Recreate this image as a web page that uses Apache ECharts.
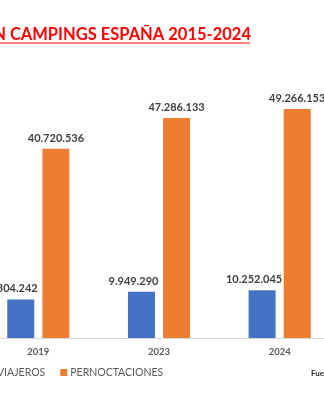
<!DOCTYPE html>
<html>
<head>
<meta charset="utf-8">
<script src="https://cdn.jsdelivr.net/npm/echarts@6/dist/echarts.min.js"></script>
<style>
html,body{margin:0;padding:0;background:#fff;overflow:hidden;width:324px;height:400px;position:relative;}
#chart{position:absolute;left:-22px;top:0;width:362px;height:400px;}
</style>
</head>
<body>
<div id="chart"></div>
<script>
var categories = ['2019', '2023', '2024'];
var viajeros = [8304242, 9949290, 10252045];
var pernoctaciones = [40720536, 47286133, 49266153];
var seriesNames = ['VIAJEROS', 'PERNOCTACIONES'];
var titleText = 'EVOLUCIÓN VIAJEROS Y PERNOCTACIONES EN CAMPINGS ESPAÑA 2015-2024';
var sourceText = 'Fuente: INE';

function fmt(v) {
  return String(v).replace(/\B(?=(\d{3})+(?!\d))/g, '.');
}

var FONT = 'Lato';
var chart = echarts.init(document.getElementById('chart'), null, {renderer: 'canvas'});
chart.setOption({
  animation: false,
  backgroundColor: '#ffffff',
  title: {
    text: titleText,
    right: 89,
    top: 25,
    padding: 0,
    textStyle: {fontFamily: FONT, fontSize: 16.5, fontWeight: 'bold', color: '#FF0000', lineHeight: 20}
  },
  graphic: [
    {type: 'line', shape: {x1: -400, y1: 43, x2: 272, y2: 43}, style: {stroke: '#FF0000', lineWidth: 1}},
    {type: 'text', left: 333, top: 369, style: {text: sourceText, font: 'bold 8px ' + FONT, fill: '#262626'}}
  ],
  legend: {
    data: seriesNames,
    left: 9,
    top: 367,
    padding: 0,
    itemWidth: 7,
    itemHeight: 7,
    itemGap: 15,
    icon: 'rect',
    textStyle: {fontFamily: FONT, fontSize: 10.5, color: '#595959', padding: [0, 0, 0, -2]}
  },
  grid: {left: 0, right: 0, top: 59, bottom: 62},
  xAxis: {
    type: 'category',
    data: categories,
    axisLine: {lineStyle: {color: '#D9D9D9', width: 1}},
    axisTick: {show: false},
    axisLabel: {fontFamily: FONT, fontSize: 9.5, color: '#595959', fontWeight: 'bold', margin: 9}
  },
  yAxis: {
    type: 'value',
    min: 0,
    max: 60000000,
    show: false,
    splitLine: {show: false}
  },
  series: [
    {
      name: seriesNames[0],
      type: 'bar',
      data: viajeros,
      barWidth: 27,
      barGap: '30%',
      itemStyle: {color: '#4472C4'},
      label: {show: true, position: 'top', distance: 5, offset: [-8, 0], formatter: function(p){return fmt(p.value);},
        fontFamily: FONT, fontSize: 11, fontWeight: 'bold', color: '#404040'}
    },
    {
      name: seriesNames[1],
      type: 'bar',
      data: pernoctaciones,
      barWidth: 27,
      itemStyle: {color: '#ED7D31'},
      label: {show: true, position: 'top', distance: 5, formatter: function(p){return fmt(p.value);},
        fontFamily: FONT, fontSize: 11, fontWeight: 'bold', color: '#404040'}
    }
  ]
});
</script>
</body>
</html>
